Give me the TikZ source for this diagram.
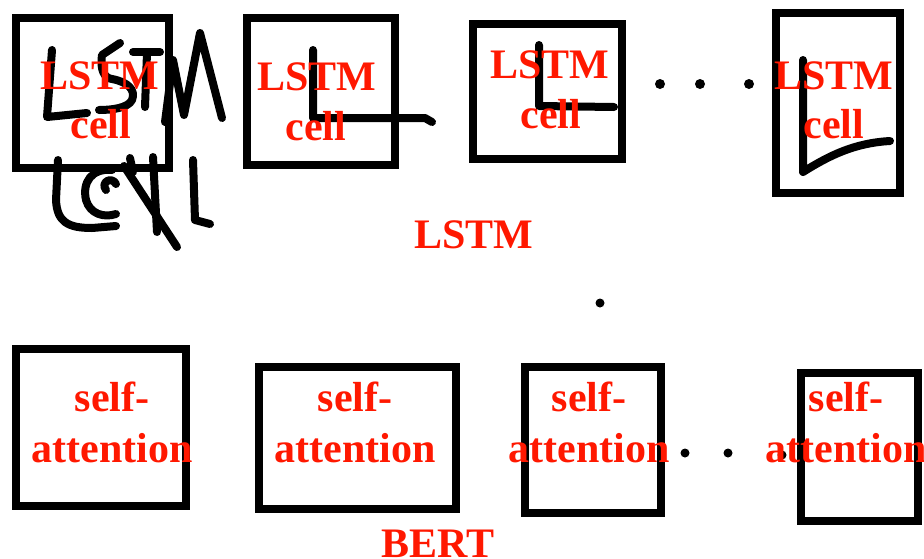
\documentclass[tikz,border=0pt]{standalone}
\usepackage{fontspec}
\setmainfont{Liberation Serif}
\definecolor{labelred}{RGB}{255,24,0}
\tikzset{
  cellbox/.style={draw=black, line width=8pt},
  scribble/.style={draw=black, line width=8pt, line cap=round, line join=round},
  lbl/.style={text=labelred, font=\fontsize{42}{50}\selectfont\bfseries, inner sep=0pt, anchor=base},
  dotmark/.style={fill=black, draw=none},
}
\begin{document}
\begin{tikzpicture}[x=1pt, y=-1pt]
\useasboundingbox (0,0) rectangle (924,558);
\fill[white] (0,0) rectangle (924,558);

% LSTM row boxes
\draw[cellbox] (16,18) rectangle (169,168);
\draw[cellbox] (247,18) rectangle (395,165);
\draw[cellbox] (473,24) rectangle (622,159);
\draw[cellbox] (776,13) rectangle (900,193);

% BERT row boxes
\draw[cellbox] (16,349) rectangle (186,506);
\draw[cellbox] (259,367) rectangle (456,509);
\draw[cellbox] (525,367) rectangle (661,513);
\draw[cellbox] (801,373) rectangle (918,521);

% handwritten "LSTM"
\draw[scribble] (52,50) -- (47,117) -- (87,113);
\draw[scribble] (120,43) -- (102,55) .. controls (100,70) and (104,78) .. (112,79)
      .. controls (128,82) and (136,90) .. (132,100) .. controls (128,108) and (112,110) .. (99,110);
\draw[scribble] (133,52) -- (160,52);
\draw[scribble] (147,53) -- (145,107);
\draw[scribble] (165,122) -- (173,60) -- (184,115) -- (200,33) -- (222,118);

% handwritten "cell"
\draw[scribble] (58,160) -- (56,200) .. controls (57,222) and (68,228) .. (92,228) -- (116,226);
\draw[scribble] (112,170) .. controls (92,168) and (82,182) .. (86,200)
      .. controls (90,214) and (104,218) .. (116,214);
\draw[scribble] (106,190) .. controls (100,182) and (112,176) .. (116,184);
\draw[scribble] (130,158) -- (133,172);
\draw[scribble] (124,166) -- (177,247);
\draw[scribble] (153,157) -- (157,232);
\draw[scribble] (193,160) -- (195,220) -- (210,224);

% strokes inside the cells
\draw[scribble] (313,50) -- (313,118) -- (425,118) -- (432,122);
\draw[scribble] (539,45) -- (539,106) -- (614,107);
\draw[scribble] (803,60) -- (803,172) .. controls (830,155) and (855,143) .. (890,141);

% ellipsis dots
\fill[dotmark] (660,84) circle (5);
\fill[dotmark] (700,84) circle (5);
\fill[dotmark] (749,84) circle (5);
\fill[dotmark] (600,303) circle (4.5);
\fill[dotmark] (685,453) circle (4.5);
\fill[dotmark] (728,453) circle (4.5);
\fill[dotmark] (782,455) circle (4.5);

% cell labels
\node[lbl] (l1a) at (100,89) {LSTM};
\node[lbl] (l1b) at (101,138) {cell};
\node[lbl] (l2a) at (317,90) {LSTM};
\node[lbl] (l2b) at (316,140) {cell};
\node[lbl] (l3a) at (550,78) {LSTM};
\node[lbl] (l3b) at (551,128) {cell};
\node[lbl] (l4a) at (834,89) {LSTM};
\node[lbl] (l4b) at (834,138) {cell};

\node[lbl] (s1a) at (112,411) {self-};
\node[lbl] (s1b) at (112,462) {attention};
\node[lbl] (s2a) at (355,411) {self-};
\node[lbl] (s2b) at (355,462) {attention};
\node[lbl] (s3a) at (589,411) {self-};
\node[lbl] (s3b) at (589,462) {attention};
\node[lbl] (s4a) at (846,411) {self-};
\node[lbl] (s4b) at (846,462) {attention};

% row titles
\node[lbl] (lstmtitle) at (474,248) {LSTM};
\node[lbl] (berttitle) at (438,557) {BERT};
\end{tikzpicture}
\end{document}
